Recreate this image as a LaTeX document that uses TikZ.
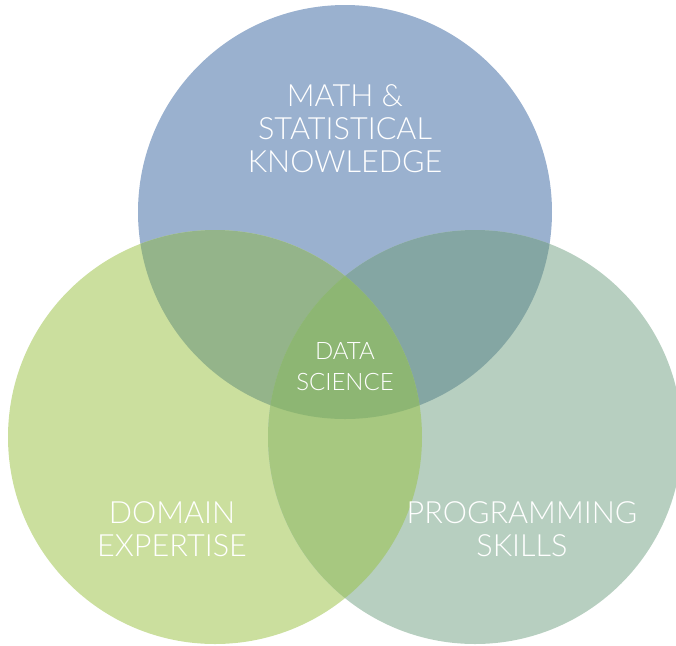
\documentclass[tikz,border=0pt]{standalone}
\usepackage{fontspec}
\setmainfont{Lato}[UprightFont=* Light]
\usepackage{tikz}
\usetikzlibrary{positioning}
\definecolor{mathcolor}{HTML}{9AB1CF}
\definecolor{domaincolor}{HTML}{CBDF9E}
\definecolor{progcolor}{HTML}{B7CFC0}
\definecolor{mathdomain}{HTML}{94B48A}
\definecolor{mathprog}{HTML}{84A6A3}
\definecolor{domainprog}{HTML}{A7C880}
\definecolor{sciencecolor}{HTML}{8DB673}

\begin{document}
\begin{tikzpicture}[x=0.5pt, y=-0.5pt]
        \useasboundingbox (0, 0) rectangle (676, 645);

        % Circle centres
        \coordinate (math) at (345, 212);
        \coordinate (domain) at (215, 437);
        \coordinate (prog) at (475, 437);

        % Circles
        \fill[mathcolor] (math) circle[radius=103.5pt];
        \fill[domaincolor] (domain) circle[radius=103.5pt];
        \fill[progcolor] (prog) circle[radius=103.5pt];

        % Overlaps
        \begin{scope}
            \clip (math) circle[radius=103.5pt];
            \fill[mathdomain] (domain) circle[radius=103.5pt];
            \fill[mathprog] (prog) circle[radius=103.5pt];
        \end{scope}
        \begin{scope}
            \clip (domain) circle[radius=103.5pt];
            \fill[domainprog] (prog) circle[radius=103.5pt];
            \clip (prog) circle[radius=103.5pt];
            \fill[sciencecolor] (math) circle[radius=103.5pt];
        \end{scope}

        % Labels
        \node[text=white, font=\fontsize{15.3}{16.5}\selectfont, align=center] (mathlabel) at (345, 129) {MATH \&\\STATISTICAL\\KNOWLEDGE};
        \node[text=white, font=\fontsize{15.3}{16.5}\selectfont, align=center] (domainlabel) at (172, 529) {DOMAIN\\EXPERTISE};
        \node[text=white, font=\fontsize{15.3}{16.5}\selectfont, align=center] (proglabel) at (522, 529) {PROGRAMMING\\SKILLS};
        \node[text=white, font=\fontsize{12}{15.5}\selectfont, align=center] (sciencelabel) at (345, 367) {DATA\\SCIENCE};

    \end{tikzpicture}
\end{document}
